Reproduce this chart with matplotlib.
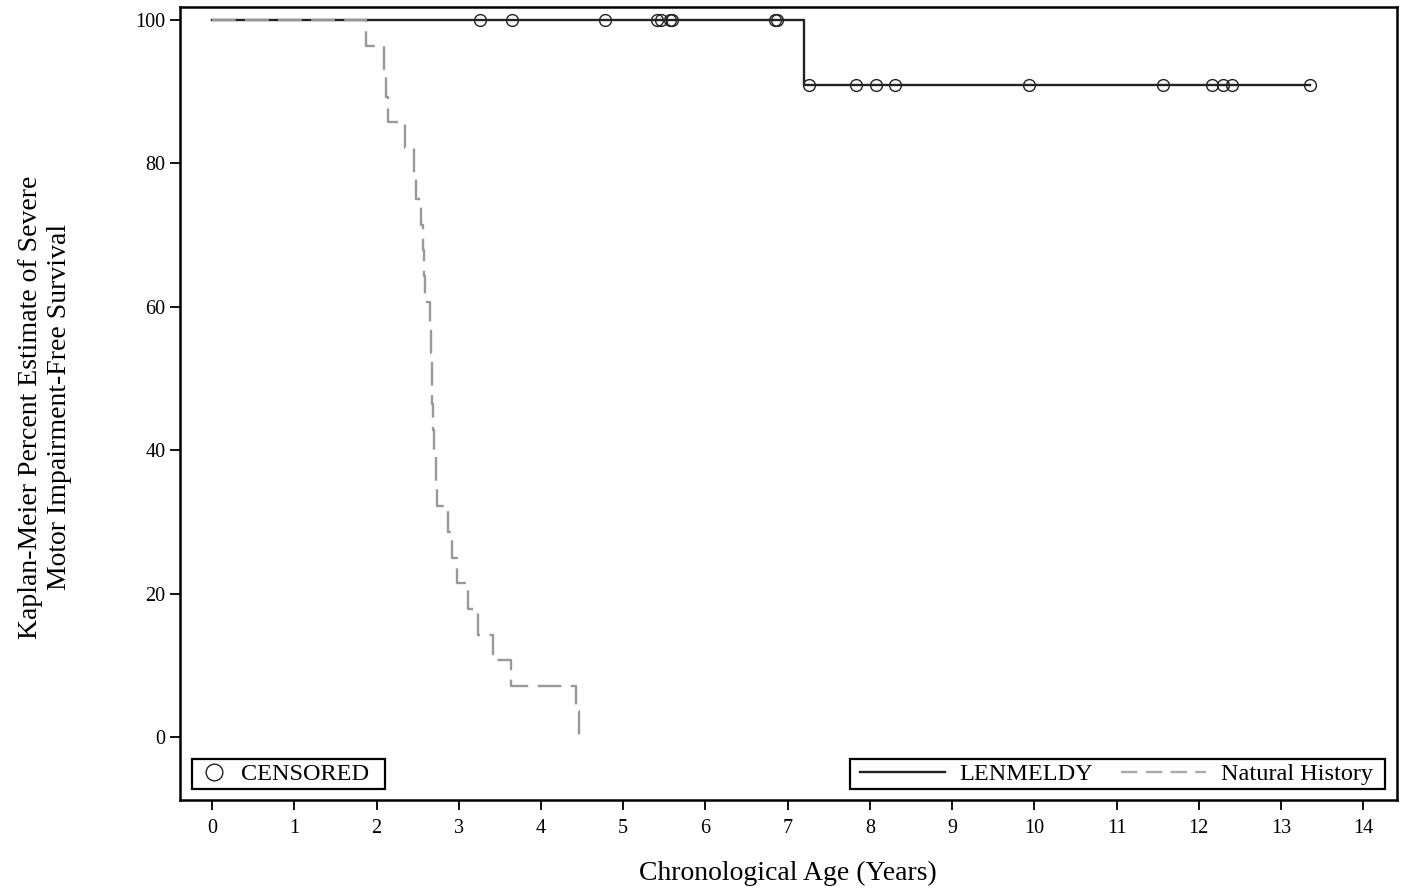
import numpy as np
import matplotlib
matplotlib.use('Agg')
import matplotlib.pyplot as plt
from matplotlib.lines import Line2D
from matplotlib.patches import Rectangle

plt.rcParams['font.family'] = ['Liberation Serif', 'DejaVu Serif']

# LENMELDY: one event, the rest censored (years)
lm_event_times = [7.20]
lm_censor_times = [3.26, 3.65, 4.78, 5.41, 5.46, 5.57, 5.59, 6.84, 6.87,
                   7.26, 7.83, 8.07, 8.31, 9.94, 11.56, 12.16, 12.30, 12.40, 13.35]

# Natural History: event times (years), no censoring
nh_event_times = [1.87, 2.09, 2.12, 2.14, 2.35, 2.45, 2.48, 2.54, 2.57, 2.58,
                  2.59, 2.65, 2.66, 2.67, 2.68, 2.69, 2.70, 2.72, 2.73, 2.87,
                  2.92, 2.98, 3.11, 3.23, 3.42, 3.63, 4.43, 4.46]

x_ticks = list(range(0, 15))
y_ticks = [0, 20, 40, 60, 80, 100]


def km(events, censored):
    # simple Kaplan-Meier, returns step times, survival (%) and survival at censor times
    t_all = sorted([(t, 1) for t in events] + [(t, 0) for t in censored])
    n = len(t_all)
    s = 100.0
    ts, ss = [0.0], [100.0]
    cens_s = []
    for t, e in t_all:
        if e:
            s = s * (n - 1) / n
            ts.append(t)
            ss.append(s)
        else:
            cens_s.append((t, s))
        n -= 1
    ts.append(t_all[-1][0])
    ss.append(s)
    return ts, ss, cens_s


fig = plt.figure(figsize=(14.02, 8.90), dpi=100)
ax = fig.add_axes([0.1284, 0.1011, 0.8680, 0.8909])

lm_t, lm_s, lm_c = km(lm_event_times, lm_censor_times)
nh_t, nh_s, _ = km(nh_event_times, [])

ax.step(lm_t, lm_s, where='post', color='#222222', lw=1.7, zorder=3)
ax.step(nh_t, nh_s, where='post', color='#999999', lw=1.7, dashes=(10, 4), zorder=4)
ax.plot([c[0] for c in lm_c], [c[1] for c in lm_c], ls='none', marker='o',
        ms=8.5, mfc='none', mec='#222222', mew=1.0, zorder=5)

ax.set_xlim(-0.39, 14.41)
ax.set_ylim(-8.8, 101.8)
ax.set_xticks(x_ticks)
ax.set_yticks(y_ticks)
ax.tick_params(axis='both', labelsize=14.5, length=7, width=1.3, direction='out')
ax.tick_params(axis='x', pad=7)
for sp in ax.spines.values():
    sp.set_linewidth(1.8)

fig.text(788 / 1402, 1 - 873 / 890, 'Chronological Age (Years)', fontsize=20,
         ha='center', va='center')
fig.text(45 / 1402, 1 - 407 / 890,
         'Kaplan-Meier Percent Estimate of Severe\nMotor Impairment-Free Survival',
         fontsize=20, rotation=90, ha='center', va='center', multialignment='center',
         linespacing=1.2)


# legend frames drawn as plain boxes (axes fraction from pixel layout)
def px_x(p):
    return (p - 180) / 1217


def px_y(p):
    return (800 - p) / 793


for x0, x1 in [(192, 385), (850, 1385)]:
    ax.add_patch(Rectangle((px_x(x0), px_y(789)), px_x(x1) - px_x(x0), px_y(759) - px_y(789),
                           transform=ax.transAxes, fill=True, facecolor='white',
                           edgecolor='black', lw=1.6, zorder=6))

h_cens = Line2D([], [], ls='none', marker='o', ms=12, mfc='none', mec='#222222', mew=1.0)
leg1 = ax.legend([h_cens], ['CENSORED'], loc='center left', bbox_to_anchor=(px_x(197), px_y(774)),
                 borderaxespad=0, frameon=False, fontsize=17.5, handletextpad=0.4,
                 borderpad=0, handlelength=1.4)
leg1.set_zorder(7)
ax.add_artist(leg1)

h_lm = Line2D([], [], color='#222222', lw=1.7)
h_nh = Line2D([], [], color='#aaaaaa', lw=1.7, dashes=(7, 3.5))
leg2 = ax.legend([h_lm, h_nh], ['LENMELDY', 'Natural History'], loc='center left',
                 bbox_to_anchor=(px_x(860), px_y(774)), borderaxespad=0, ncol=2,
                 frameon=False, fontsize=17.5, handlelength=3.5, handletextpad=0.6,
                 columnspacing=1.15, borderpad=0)
leg2.set_zorder(7)

fig.savefig('out.png', dpi=100)
